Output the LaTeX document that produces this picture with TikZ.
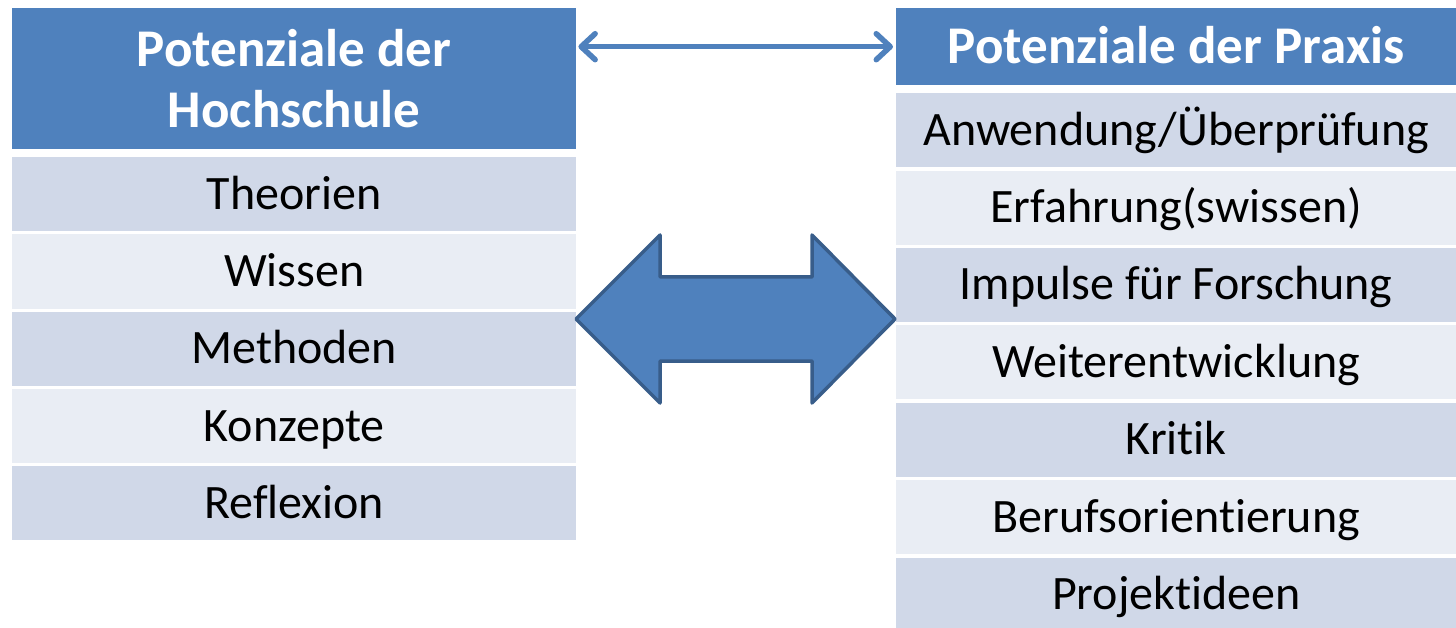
\documentclass[tikz,border=0pt]{standalone}
\usepackage{fontspec}
\setmainfont{Carlito}[Ligatures=NoCommon]
\usetikzlibrary{arrows.meta}
\definecolor{hdrblue}{HTML}{4F81BD}
\definecolor{rowdark}{HTML}{D0D8E8}
\definecolor{rowlight}{HTML}{E9EDF4}
\definecolor{arrowedge}{HTML}{385D8A}

\begin{document}
\begin{tikzpicture}[x=1pt, y=-1pt,
    head/.style={fill=hdrblue, text=white, font=\fontsize{53}{61}\selectfont\bfseries, align=center, inner sep=0pt, anchor=north west},
    cell/.style={minimum height=74pt, text height=30pt, text depth=0pt, inner sep=0pt, font=\fontsize{48}{56}\selectfont, anchor=north west},
    thinarr/.style={draw=hdrblue, line width=5.5pt, line cap=round, {Straight Barb[round, length=14pt, width=26pt]}-{Straight Barb[round, length=14pt, width=26pt]}},
    bigarr/.style={draw=arrowedge, fill=hdrblue, line width=3.5pt, line join=round}]
    \useasboundingbox [fill=white] (0,0) rectangle (1456,628);
    % Hochschule
    \node [head, minimum width=564pt, minimum height=141pt] (HS) at (12,8) {Potenziale der\\Hochschule};
    \foreach \txt [count=\i] in {Theorien, Wissen, Methoden, Konzepte, Reflexion} {
        \pgfmathsetmacro{\yy}{157+(\i-1)*77.3}
        \ifodd\i \def\rowcol{rowdark}\else \def\rowcol{rowlight}\fi
        \node [cell, fill=\rowcol, minimum width=564pt] (HS\i) at (12,\yy) {\txt};
    }
    % Praxis
    \node [head, minimum width=560pt, minimum height=77pt, text height=33pt, text depth=0pt] (PR) at (896,8) {Potenziale der Praxis};
    \foreach \txt [count=\i] in {Anwendung/Überprüfung, Erfahrung(swissen), Impulse für Forschung, Weiterentwicklung, Kritik, Berufsorientierung, Projektideen} {
        \pgfmathsetmacro{\yy}{93+(\i-1)*77.4}
        \ifodd\i \def\rowcol{rowdark}\else \def\rowcol{rowlight}\fi
        \node [cell, fill=\rowcol, minimum width=560pt] (PR\i) at (896,\yy) {\txt};
    }
    % arrows
    \draw [thinarr, shorten <=2pt, shorten >=3pt] (HS.east |- PR.center) -- (PR.west);
    \draw [bigarr] (576,319) -- (660,235) -- (660,277) -- (812,277) -- (812,235) -- (895,319)
        -- (812,403) -- (812,361) -- (660,361) -- (660,403) -- cycle;
\end{tikzpicture}
\end{document}
